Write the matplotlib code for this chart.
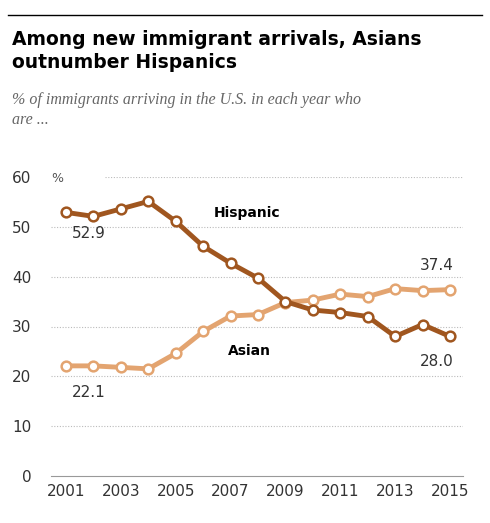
import matplotlib.pyplot as plt

years = list(range(2001, 2016))
hispanic = [52.9, 52.1, 53.6, 55.1, 51.1, 46.1, 42.7, 39.7, 35.0, 33.3, 32.8, 32.0, 28.0, 30.4, 28.0]
asian = [22.1, 22.1, 21.8, 21.5, 24.6, 29.0, 32.1, 32.4, 34.8, 35.3, 36.5, 36.0, 37.6, 37.2, 37.4]
yticks = [0, 10, 20, 30, 40, 50, 60]
xticks = [2001, 2003, 2005, 2007, 2009, 2011, 2013, 2015]

c_hisp = '#a0561f'
c_asian = '#e3a470'

fig = plt.figure(figsize=(4.9, 5.23), dpi=100)
W, H = 490, 523
# axes: x 51..463 px, y 177..476 px
ax = fig.add_axes([51 / W, 1 - 476 / H, (463 - 51) / W, (476 - 177) / H])
ax.set_ylim(0, 60)
# 2001 at px 66, 2015 at px 450
ppy = (450 - 66) / 14
x_lo, x_hi = 2001 - (66 - 51) / ppy, 2015 + (463 - 450) / ppy
ax.set_xlim(x_lo, x_hi)

for y in yticks[1:]:
    x0 = 2001 + (105 - 66) / ppy if y == 60 else x_lo
    ax.plot([x0, x_hi], [y, y], color='#bbbbbb', lw=0.8, ls=(0, (1, 1.5)), zorder=0)

ax.plot(years, asian, color=c_asian, lw=3.5, marker='o', ms=7, mfc='white', mec=c_asian, mew=1.8, zorder=3)
ax.plot(years, hispanic, color=c_hisp, lw=3.5, marker='o', ms=7, mfc='white', mec=c_hisp, mew=1.8, zorder=4)

for s in ['top', 'right', 'left']:
    ax.spines[s].set_visible(False)
ax.spines['bottom'].set_color('#999999')
ax.set_yticks(yticks)
ax.set_xticks(xticks)
ax.tick_params(length=0, labelsize=11, colors='#333333', pad=6)
ax.tick_params(axis='y', pad=14)
ax.text(2000.45, 59.6, '%', fontsize=9, color='#555555', va='center', clip_on=False)

ax.text(2001.2, 48.7, '52.9', fontsize=11, color='#333333', va='center')
ax.text(2001.2, 16.7, '22.1', fontsize=11, color='#333333', va='center')
ax.text(2015.15, 42.2, '37.4', fontsize=11, color='#333333', ha='right', va='center')
ax.text(2015.15, 22.9, '28.0', fontsize=11, color='#333333', ha='right', va='center')
ax.text(2007.6, 52.8, 'Hispanic', fontsize=10, fontweight='bold', color='black', ha='center', va='center')
ax.text(2007.7, 25.0, 'Asian', fontsize=10, fontweight='bold', color='black', ha='center', va='center')

fig.add_artist(plt.Line2D([8 / W, 482 / W], [1 - 15 / H, 1 - 15 / H], color='black', lw=1))
fig.text(12 / W, 1 - 30 / H, 'Among new immigrant arrivals, Asians\noutnumber Hispanics',
         fontsize=13.5, fontweight='bold', va='top', linespacing=1.25, family='DejaVu Sans')
fig.text(12 / W, 1 - 92 / H, '% of immigrants arriving in the U.S. in each year who\nare ...',
         fontsize=11.5, style='italic', color='#666666', va='top', family='Liberation Serif', linespacing=1.35)

fig.savefig('out.png', dpi=100)
